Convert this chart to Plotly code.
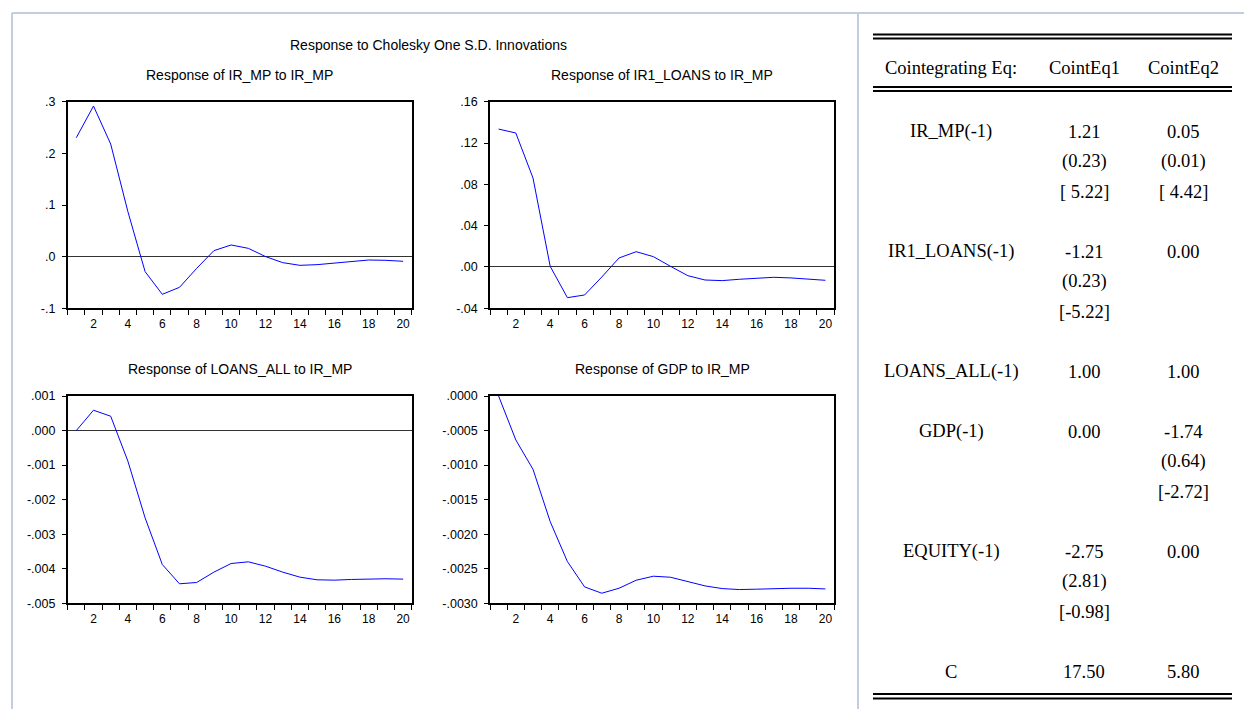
import plotly.graph_objects as go

# ---------------- data ----------------
periods = list(range(1, 21))

resp_irmp = [0.2303, 0.2916, 0.2180, 0.0871, -0.0290, -0.0729, -0.0594, -0.0226, 0.0116, 0.0226,
             0.0161, 0.0002, -0.0116, -0.0168, -0.0155, -0.0123, -0.0090, -0.0065, -0.0071, -0.0090]
resp_ir1loans = [0.1335, 0.1297, 0.0861, 0.0006, -0.0297, -0.0271, -0.0097, 0.0087, 0.0148, 0.0100,
                 0.0006, -0.0084, -0.0126, -0.0132, -0.0119, -0.0106, -0.0100, -0.0106, -0.0119, -0.0129]
resp_loansall = [0.0000, 0.000588, 0.000415, -0.000887, -0.002527, -0.003877, -0.004436, -0.004397,
                 -0.004098, -0.003848, -0.003800, -0.003925, -0.004098, -0.004243, -0.004320, -0.004330,
                 -0.004310, -0.004290, -0.004290, -0.004300]
resp_gdp = [0.0000, -0.000636, -0.001061, -0.001818, -0.002396, -0.002763, -0.002854, -0.002782,
            -0.002666, -0.002608, -0.002623, -0.002686, -0.002748, -0.002787, -0.002801, -0.002796,
            -0.002787, -0.002782, -0.002782, -0.002792]

panel_titles = ["Response of IR_MP to IR_MP", "Response of IR1_LOANS to IR_MP",
                "Response of LOANS_ALL to IR_MP", "Response of GDP to IR_MP"]
main_title = "Response to Cholesky One S.D. Innovations"

yt1_vals = [-0.1, 0.0, 0.1, 0.2, 0.3]
yt1_text = ["-.1", ".0", ".1", ".2", ".3"]
yt2_vals = [-0.04, 0.0, 0.04, 0.08, 0.12, 0.16]
yt2_text = ["-.04", ".00", ".04", ".08", ".12", ".16"]
yt3_vals = [-0.005, -0.004, -0.003, -0.002, -0.001, 0.0, 0.001]
yt3_text = ["-.005", "-.004", "-.003", "-.002", "-.001", ".000", ".001"]
yt4_vals = [-0.0030, -0.0025, -0.0020, -0.0015, -0.0010, -0.0005, 0.0]
yt4_text = ["-.0030", "-.0025", "-.0020", "-.0015", "-.0010", "-.0005", ".0000"]
xt_vals = [2, 4, 6, 8, 10, 12, 14, 16, 18, 20]
xt_text = ["2", "4", "6", "8", "10", "12", "14", "16", "18", "20"]

# table
tbl_header = ["Cointegrating Eq:", "CointEq1", "CointEq2"]
tbl_vars = ["IR_MP(-1)", "IR1_LOANS(-1)", "LOANS_ALL(-1)", "GDP(-1)", "EQUITY(-1)", "C"]
eq1_coef = ["1.21", "-1.21", "1.00", "0.00", "-2.75", "17.50"]
eq1_se = ["(0.23)", "(0.23)", "", "", "(2.81)", ""]
eq1_t = ["[ 5.22]", "[-5.22]", "", "", "[-0.98]", ""]
eq2_coef = ["0.05", "0.00", "1.00", "-1.74", "0.00", "5.80"]
eq2_se = ["(0.01)", "", "", "(0.64)", "", ""]
eq2_t = ["[ 4.42]", "", "", "[-2.72]", "", ""]

# ---------------- layout helpers ----------------
W, H = 1244, 709
def px(x):
    return x / W
def py(y):
    return 1 - y / H

SANS = "Liberation Sans, Arial, sans-serif"
SERIF = "Liberation Serif, Times New Roman, serif"
BLUE = "#0000FF"

fig = go.Figure()

series = [resp_irmp, resp_ir1loans, resp_loansall, resp_gdp]
yranges = [[-0.1, 0.3], [-0.04, 0.16], [-0.005, 0.001], [-0.003, 0.0]]
yticks = [(yt1_vals, yt1_text), (yt2_vals, yt2_text), (yt3_vals, yt3_text), (yt4_vals, yt4_text)]
xdoms = [(67.7, 411.7), (490, 834), (67.7, 411.7), (490, 834)]
ydoms = [(101.7, 308.3), (101.7, 308.3), (396, 603.3), (396, 603.3)]
half_ticks = [i + 0.5 for i in range(0, 21)]

for i in range(4):
    n = i + 1
    xa = "x" if n == 1 else f"x{n}"
    ya = "y" if n == 1 else f"y{n}"
    fig.add_trace(go.Scatter(x=periods, y=series[i], mode="lines",
                             line=dict(color=BLUE, width=1), xaxis=xa, yaxis=ya,
                             showlegend=False, hoverinfo="x+y"))
    xkey = "xaxis" if n == 1 else f"xaxis{n}"
    ykey = "yaxis" if n == 1 else f"yaxis{n}"
    fig.update_layout({
        xkey: dict(domain=[px(xdoms[i][0]), px(xdoms[i][1])], anchor=ya, automargin=False,
                   range=[0.5, 20.5], tickmode="array", tickvals=xt_vals, ticktext=xt_text,
                   ticks="", showgrid=False, zeroline=False, showline=True, mirror=True,
                   linecolor="black", linewidth=1.5, ticklabelstandoff=4,
                   tickfont=dict(family=SANS, size=12, color="black"),
                   minor=dict(tickmode="array", tickvals=half_ticks, ticks="outside",
                              ticklen=5, tickcolor="black", tickwidth=1, showgrid=False)),
        ykey: dict(domain=[py(ydoms[i][1]), py(ydoms[i][0])], anchor=xa, automargin=False,
                   range=yranges[i], tickmode="array", tickvals=yticks[i][0], ticktext=yticks[i][1],
                   ticks="outside", ticklen=4, tickcolor="black", showgrid=False,
                   zeroline=True, zerolinecolor="#333333", zerolinewidth=1,
                   showline=True, mirror=True, linecolor="black", linewidth=1.5,
                   ticklabelstandoff=4,
                   tickfont=dict(family=SANS, size=12.5, color="black")),
    })

annotations = []
shapes = []

# panel titles
title_y = [75, 75, 369, 369]
for i in range(4):
    annotations.append(dict(text=panel_titles[i], xref="paper", yref="paper",
                            x=px((xdoms[i][0] + xdoms[i][1]) / 2), y=py(title_y[i]),
                            xanchor="center", yanchor="middle", showarrow=False,
                            font=dict(family=SANS, size=14, color="black")))
# main title
annotations.append(dict(text=main_title, xref="paper", yref="paper", x=px(428), y=py(45),
                        xanchor="center", yanchor="middle", showarrow=False,
                        font=dict(family=SANS, size=14, color="black")))

# frame lines (light)
FRAME = "#c3cde0"
shapes.append(dict(type="line", xref="paper", yref="paper", x0=px(12), x1=1, y0=py(13), y1=py(13),
                   line=dict(color=FRAME, width=2)))
shapes.append(dict(type="line", xref="paper", yref="paper", x0=px(12), x1=px(12), y0=py(13), y1=0,
                   line=dict(color=FRAME, width=2)))
shapes.append(dict(type="line", xref="paper", yref="paper", x0=px(858), x1=px(858), y0=py(13), y1=0,
                   line=dict(color=FRAME, width=2)))

# table double rules
for yy in [34.5, 38.5, 87, 91, 694, 698.5]:
    shapes.append(dict(type="line", xref="paper", yref="paper", x0=px(873), x1=px(1232),
                       y0=py(yy), y1=py(yy), line=dict(color="black", width=2)))

# table text
col_x = [951, 1084, 1183]
def tadd(text, x, y, anchor="center"):
    if text == "":
        return
    annotations.append(dict(text=text, xref="paper", yref="paper", x=px(x), y=py(y),
                            xanchor=anchor, yanchor="middle", showarrow=False,
                            font=dict(family=SERIF, size=18.5, color="black")))

tadd(tbl_header[0], 951, 68)
tadd(tbl_header[1], col_x[1], 68)
tadd(tbl_header[2], col_x[2], 68)

line_h = 30
y0 = 131.7
line = 0
for k in range(len(tbl_vars)):
    yy = y0 + line * line_h
    tadd(tbl_vars[k], col_x[0], yy)
    tadd(eq1_coef[k], col_x[1], yy)
    tadd(eq2_coef[k], col_x[2], yy)
    tadd(eq1_se[k], col_x[1], yy + line_h)
    tadd(eq2_se[k], col_x[2], yy + line_h)
    tadd(eq1_t[k], col_x[1], yy + 2 * line_h)
    tadd(eq2_t[k], col_x[2], yy + 2 * line_h)
    has_se = (eq1_se[k] != "") or (eq2_se[k] != "")
    line += 4 if has_se else 2

fig.update_layout(width=W, height=H, margin=dict(l=0, r=0, t=0, b=0, autoexpand=False),
                  paper_bgcolor="white", plot_bgcolor="white",
                  annotations=annotations, shapes=shapes, showlegend=False)

fig.write_html("out.html", config={"displayModeBar": False},
               post_script="document.body.style.margin='0px';document.documentElement.style.overflow='hidden';")
